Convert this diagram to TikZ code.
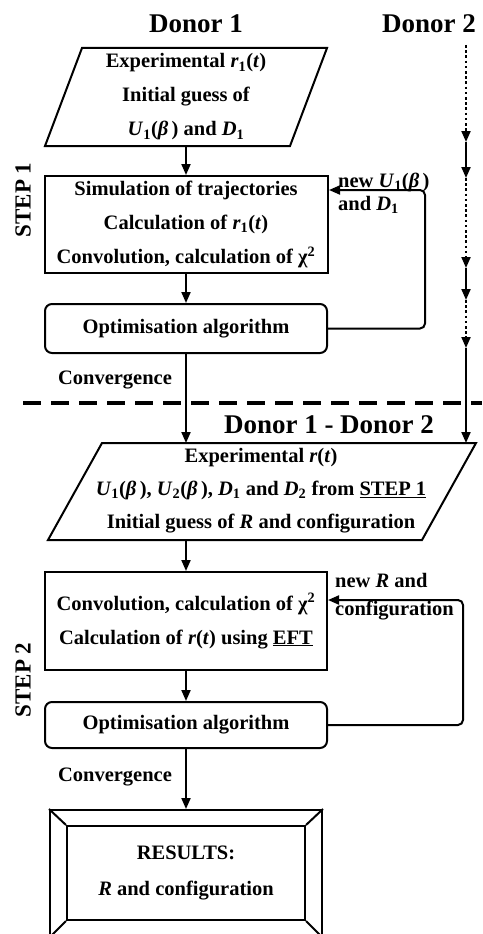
\documentclass[tikz,border=0pt]{standalone}
\usepackage{fontspec}
\setmainfont{Liberation Serif}
\usetikzlibrary{arrows.meta}
\newcommand\bodyfont{\fontsize{20.5}{34}\selectfont\bfseries}
\newcommand\headfont{\fontsize{27}{30}\selectfont\bfseries}
\newcommand\bi[1]{\textbf{\textit{#1}}}
\tikzset{
  outline/.style={draw, line width=2pt},
  box/.style={outline, align=center, font=\bodyfont, inner sep=0pt},
  rbox/.style={box, rounded corners=7pt},
  txt/.style={align=center, font=\bodyfont, inner sep=0pt},
  lbl/.style={align=left, font=\bodyfont, inner sep=0pt, anchor=west},
  heading/.style={font=\headfont, inner sep=0pt},
  steplabel/.style={font=\fontsize{23}{26}\selectfont\bfseries, rotate=90, inner sep=0pt},
  arr/.style={line width=2pt, -{Triangle[length=11pt,width=9pt]}},
  dotline/.style={line width=2.8pt, dash pattern=on 2.6pt off 2.6pt},
}
\begin{document}
\begin{tikzpicture}[x=1pt,y=-1pt]
\useasboundingbox (0,0) rectangle (482,934);
\fill[white] (0,0) rectangle (482,934);
\clip (0,0) rectangle (482,934);

% column headings
\node[heading] (don1) at (196,24) {Donor 1};
\node[heading] (don2) at (429,24) {Donor 2};

% step labels
\node[steplabel] (s1) at (23,200) {STEP 1};
\node[steplabel] (s2) at (23,680) {STEP 2};

% ---- STEP 1 ----
\draw[outline] (82,48) -- (327,48) -- (290,146) -- (45,146) -- cycle;
\node[txt] (p1) at (186,97) {Experimental \bi{r}\textsubscript{1}(\bi{t})\\Initial guess of\\\bi{U}\textsubscript{1}(\bi{β}\,) and \bi{D}\textsubscript{1}};
\coordinate (p1s) at (186,146);

\node[box, minimum width=283pt, minimum height=97pt] (sim) at (186,224.5)
  {Simulation of trajectories\\Calculation of \bi{r}\textsubscript{1}(\bi{t})\\Convolution, calculation of χ\textsuperscript{2}};
\node[rbox, minimum width=282pt, minimum height=49pt] (opt1) at (186,328.5) {Optimisation algorithm};

\draw[arr] (p1s) -- (sim.north);
\draw[arr] (sim.south) -- (opt1.north);

\coordinate (fb1a) at (425,328.5);
\coordinate (fb1b) at (425,190);
\coordinate (fb1c) at (329,190);
\draw[arr, rounded corners=5pt] (opt1.east) -- (fb1a) -- (fb1b) -- (fb1c);
\node[lbl, font=\fontsize{20.5}{23}\selectfont\bfseries] (newu) at (338,193.5)
  {new \bi{U}\textsubscript{1}(\bi{β}\,)\\and \bi{D}\textsubscript{1}};

\node[txt] (conv1) at (115,380) {Convergence};

% separator between the two steps
\coordinate (sepl) at (23,403);
\coordinate (sepr) at (482,403);
\draw[line width=4pt, dash pattern=on 18pt off 10pt] (sepl) -- (sepr);

% ---- Donor 2 column: dotted stretches end in solid arrow tips ----
\coordinate (d0) at (466,45);
\coordinate (d1) at (466,142);
\coordinate (d2) at (466,178);
\coordinate (d3) at (466,268);
\coordinate (d4) at (466,300);
\coordinate (d5) at (466,348);
\coordinate (d6) at (466,443);
\draw[dotline] (d0) -- ([yshift=10pt]d1);
\draw[arr] ([yshift=10pt]d1) -- (d1);
\draw[arr] (d1) -- (d2);
\draw[dotline] (d2) -- ([yshift=10pt]d3);
\draw[arr] ([yshift=10pt]d3) -- (d3);
\draw[arr] (d3) -- (d4);
\draw[dotline] (d4) -- ([yshift=10pt]d5);
\draw[arr] ([yshift=10pt]d5) -- (d5);
\draw[arr] (d5) -- (d6);

% ---- STEP 2 ----
\node[heading] (don12) at (329,425) {Donor 1 - Donor 2};

\coordinate (p2n) at (186,443);
\draw[arr] (opt1.south) -- (p2n);
\draw[outline] (102,443) -- (476,443) -- (422,540) -- (48,540) -- cycle;
\node[txt, font=\fontsize{20.5}{33}\selectfont\bfseries] (p2) at (261,491)
  {Experimental \bi{r}(\bi{t})\\\bi{U}\textsubscript{1}(\bi{β}\,), \bi{U}\textsubscript{2}(\bi{β}\,), \bi{D}\textsubscript{1} and \bi{D}\textsubscript{2} from \underline{STEP 1}\\Initial guess of \bi{R} and configuration};
\coordinate (p2s) at (186,540);

\node[box, minimum width=282pt, minimum height=98pt] (conv) at (186,621)
  {Convolution, calculation of χ\textsuperscript{2}\\Calculation of \bi{r}(\bi{t}) using \underline{EFT}};
\node[rbox, minimum width=282pt, minimum height=46pt] (opt2) at (186,725) {Optimisation algorithm};

\draw[arr] (p2s) -- (conv.north);
\draw[arr] (conv.south) -- (opt2.north);

\coordinate (fb2a) at (463,725);
\coordinate (fb2b) at (463,600);
\coordinate (fb2c) at (328,600);
\draw[arr, rounded corners=5pt] (opt2.east) -- (fb2a) -- (fb2b) -- (fb2c);
\node[lbl, font=\fontsize{20.5}{28}\selectfont\bfseries] (newr) at (335,597)
  {new \bi{R} and\\configuration};

\node[txt] (conv2) at (115,777) {Convergence};

% results frame
\node[outline, minimum width=272pt, minimum height=127pt, inner sep=0pt] (res) at (186,873.5) {};
\node[box, minimum width=238pt, minimum height=94pt, font=\fontsize{20.5}{36}\selectfont\bfseries] (resin) at (186,873)
  {RESULTS:\\\bi{R} and configuration};
\draw[line width=2pt] (res.north west) -- (resin.north west);
\draw[line width=2pt] (res.north east) -- (resin.north east);
\draw[line width=2pt] (res.south west) -- (resin.south west);
\draw[line width=2pt] (res.south east) -- (resin.south east);
\draw[arr] (opt2.south) -- (res.north);
\end{tikzpicture}
\end{document}
